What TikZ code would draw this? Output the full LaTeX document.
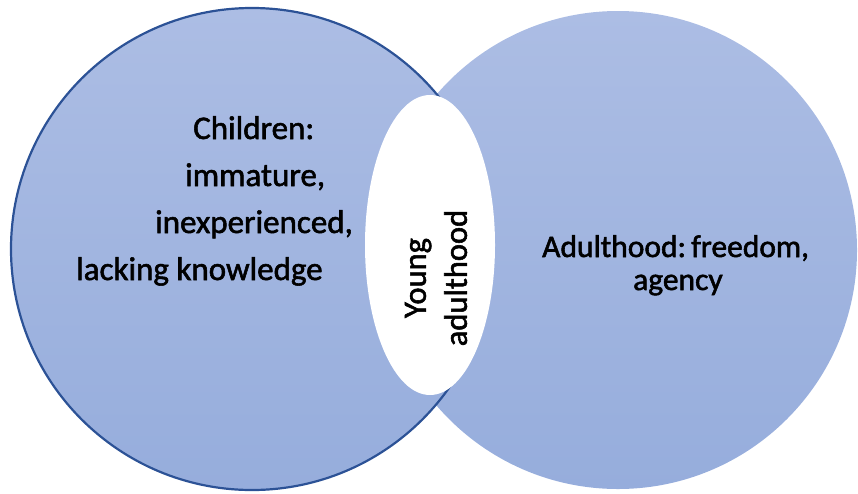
\documentclass[tikz,border=0pt]{standalone}
\usepackage{fontspec}
\setmainfont{Carlito}
\newfontfamily\labelfont{Carlito}
% slightly heavier strokes: fill and outline each glyph
\newcommand\heavytext[1]{\special{pdf:literal direct 2 Tr 0.55 w}#1\special{pdf:literal direct 0 Tr}}
\usetikzlibrary{shapes.geometric}
\definecolor{discTop}{RGB}{172,189,228}
\definecolor{discBot}{RGB}{150,173,220}
\definecolor{discLine}{RGB}{44,82,150}
\tikzset{
  disc/.style={circle, inner sep=0pt, top color=discTop, bottom color=discBot},
  lens/.style={ellipse, fill=white, inner sep=0pt},
  leftlabel/.style={anchor=base west, inner sep=0pt, font=\labelfont\fontsize{33}{40}\selectfont, text=black},
  rightlabel/.style={anchor=base west, inner sep=0pt, font=\labelfont\fontsize{31.5}{38}\selectfont, text=black},
}
\begin{document}
\begin{tikzpicture}[x=1pt, y=-1pt]
  \useasboundingbox (0,0) rectangle (858,493);
  % the two overlapping discs
  \node[disc, minimum size=478pt] (adult) at (618,250) {};
  \node[disc, draw=discLine, line width=2.2pt, minimum size=482pt] (child) at (252,249) {};
  % white overlap in the middle
  \node[lens, minimum width=130pt, minimum height=300pt] (young) at (430,245) {};
  \node[rotate=90, align=center, inner sep=0pt,
        font=\labelfont\fontsize{32.5}{41}\selectfont] (youngtext) at (436,278)
        {\heavytext{Young}\\\heavytext{adulthood}};
  % childhood description
  \node[leftlabel] (c1) at (193,139) {\heavytext{Children:}};
  \node[leftlabel] (c2) at (185,186) {\heavytext{immature,}};
  \node[leftlabel] (c3) at (155,233) {\heavytext{inexperienced,}};
  \node[leftlabel] (c4) at (76,280) {\heavytext{lacking knowledge}};
  % adulthood description
  \node[rightlabel] (a1) at (542,257) {\heavytext{Adulthood:\,freedom,}};
  \node[rightlabel] (a2) at (633,290) {\heavytext{agency}};
\end{tikzpicture}
\end{document}
